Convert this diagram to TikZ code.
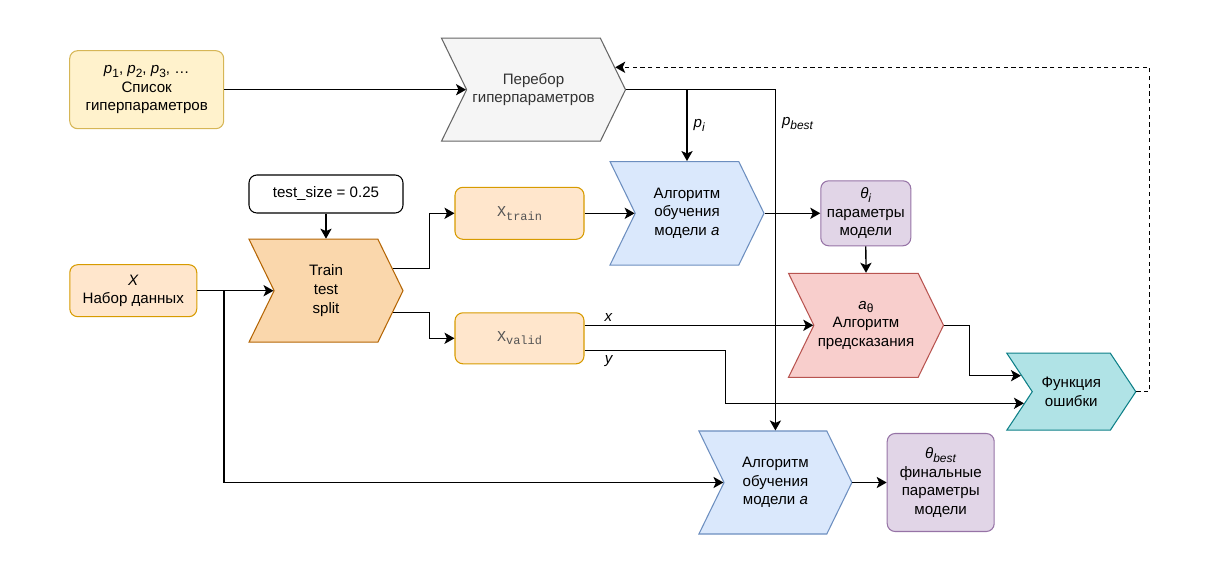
\documentclass[tikz,border=0pt]{standalone}
\usepackage{fontspec}
\setmainfont{Liberation Sans}
\setmonofont{Liberation Mono}
\usepackage{tikz}
\usetikzlibrary{arrows.meta,shapes.symbols,calc}
\newcommand{\pxu}{0.02cm}
\newcommand{\lowsub}[1]{\raisebox{-0.45ex}{\fontsize{6.8}{8}\selectfont #1}}

\definecolor{ylwfill}{HTML}{FFF2CC}
\definecolor{ylwdraw}{HTML}{D6B656}
\definecolor{gryfill}{HTML}{F5F5F5}
\definecolor{grydraw}{HTML}{666666}
\definecolor{grytext}{HTML}{333333}
\definecolor{orgfill}{HTML}{FFE6CC}
\definecolor{orgdraw}{HTML}{D79B00}
\definecolor{drkfill}{HTML}{FAD7AC}
\definecolor{drkdraw}{HTML}{B46504}
\definecolor{blufill}{HTML}{DAE8FC}
\definecolor{bludraw}{HTML}{6C8EBF}
\definecolor{prpfill}{HTML}{E1D5E7}
\definecolor{prpdraw}{HTML}{9673A6}
\definecolor{redfill}{HTML}{F8CECC}
\definecolor{reddraw}{HTML}{B85450}
\definecolor{tealfill}{HTML}{B0E3E6}
\definecolor{tealdraw}{HTML}{0E8088}
\definecolor{codetext}{HTML}{555555}

\begin{document}
\begin{tikzpicture}[x=\pxu,y=-\pxu,
	every node/.style={font=\fontsize{8.6}{10.6}\selectfont,align=center,inner sep=0pt},
	box/.style={rectangle,rounded corners=4.5pt,draw,line width=0.6pt},
	chev/.style={signal,signal from=west,signal to=east,signal pointer angle=128,draw,line width=0.6pt},
	link/.style={draw,line width=0.75pt,-{Stealth[length=5.7pt,width=6.4pt,inset=1.4pt]}},
	lbl/.style={font=\fontsize{8.6}{10.6}\selectfont\itshape}]
	\useasboundingbox (0,0) rectangle (1223,570);

	\node[box,fill=ylwfill,draw=ylwdraw,minimum width=154*\pxu,minimum height=78*\pxu] (hplist) at (146.7,89.7)
		{\textit{p}\lowsub{1}, \textit{p}\lowsub{2}, \textit{p}\lowsub{3}, …\\Список\\гиперпараметров};
	\node[chev,fill=gryfill,draw=grydraw,text=grytext,minimum width=184*\pxu,minimum height=103*\pxu] (perebor) at (533.5,89.7)
		{Перебор\\гиперпараметров};
	\node[box,fill=white,draw=black,minimum width=154*\pxu,minimum height=38*\pxu] (testsize) at (326,194) {test\_size = 0.25};
	\node[box,fill=orgfill,draw=orgdraw,minimum width=127*\pxu,minimum height=52*\pxu] (data) at (133.3,290.7)
		{\textit{X}\\Набор данных};
	\node[chev,fill=drkfill,draw=drkdraw,minimum width=154*\pxu,minimum height=103*\pxu] (split) at (326,290.7)
		{Train\\test\\split};
	\node[box,fill=orgfill,draw=orgdraw,text=codetext,minimum width=129*\pxu,minimum height=52*\pxu] (xtrain) at (519.5,213.3)
		{\ttfamily X\lowsub{train}};
	\node[box,fill=orgfill,draw=orgdraw,text=codetext,minimum width=129*\pxu,minimum height=51*\pxu] (xvalid) at (519.5,338.3)
		{\ttfamily X\lowsub{valid}};
	\node[chev,fill=blufill,draw=bludraw,minimum width=154*\pxu,minimum height=103.5*\pxu] (trainalg) at (687,213.3)
		{Алгоритм\\обучения\\модели \textit{a}};
	\node[box,fill=prpfill,draw=prpdraw,minimum width=90*\pxu,minimum height=65*\pxu] (theta) at (865.8,213.3)
		{\textit{θ}\lowsub{\textit{i}}\\параметры\\модели};
	\node[chev,fill=redfill,draw=reddraw,minimum width=155*\pxu,minimum height=104*\pxu] (pred) at (866,325.3)
		{\textit{a}\lowsub{θ}\\Алгоритм\\предсказания};
	\node[chev,signal pointer angle=113,fill=tealfill,draw=tealdraw,minimum width=129*\pxu,minimum height=77*\pxu] (loss) at (1071.3,391.7)
		{Функция\\ошибки};
	\node[chev,fill=blufill,draw=bludraw,minimum width=153*\pxu,minimum height=103*\pxu] (finalalg) at (775.4,482.5)
		{Алгоритм\\обучения\\модели \textit{a}};
	\node[box,fill=prpfill,draw=prpdraw,minimum width=107*\pxu,minimum height=98*\pxu] (thetabest) at (940.7,482.5)
		{\textit{θ}\lowsub{\textit{best}}\\финальные\\параметры\\модели};

	\coordinate (fbin) at ($(perebor.east)+(-10.9,-22.4)$);
	\coordinate (splita) at ($(split.east)+(-10.9,-22.4)$);
	\coordinate (splitb) at ($(split.east)+(-10.7,22)$);
	\coordinate (lossa) at ($(loss.west)+(-10.7,-16)$);
	\coordinate (lossb) at ($(loss.west)+(-7.7,11.6)$);
	\coordinate (ystart) at ($(xvalid.east)+(0,12.4)$);

	\draw[link] (hplist.east) -- (perebor.west);
	\draw[link] (perebor.east) -| node[lbl,pos=0.75,right=3.4pt] {\textit{p}\lowsub{\textit{i}}} (trainalg.north);
	\draw[link] (perebor.east) -| node[lbl,pos=0.55,right=3.4pt] {\textit{p}\lowsub{\textit{best}}} (finalalg.north);
	\draw[link,dash pattern=on 2.4pt off 2pt] (loss.east) -- ++(13.2,0) |- (fbin);
	\draw[link] (testsize.south) -- (split.north);
	\draw[link] (data.east) -- (split.west);
	\draw[link] (data.east) -- ++(26.8,0) |- (finalalg.west);
	\draw[link] (splita) -- ++(36.9,0) |- (xtrain.west);
	\draw[link] (splitb) -- ++(36.7,0) |- (xvalid.west);
	\draw[link] (xtrain.east) -- (trainalg.west);
	\draw[link] (trainalg.east) -- (theta.west);
	\draw[link] (theta.south) -- (pred.north);
	\draw[link] (xvalid.east |- pred.west) -- node[lbl,pos=0.085,anchor=south west,yshift=1.9pt] {x} (pred.west);
	\draw[link] (ystart) -- node[lbl,pos=0.14,anchor=north west,yshift=-2.5pt] {y} ++(140.9,0) |- (lossb);
	\draw[link] (pred.east) -- ++(25.2,0) |- (lossa);
	\draw[link] (finalalg.east) -- (thetabest.west);
\end{tikzpicture}
\end{document}
